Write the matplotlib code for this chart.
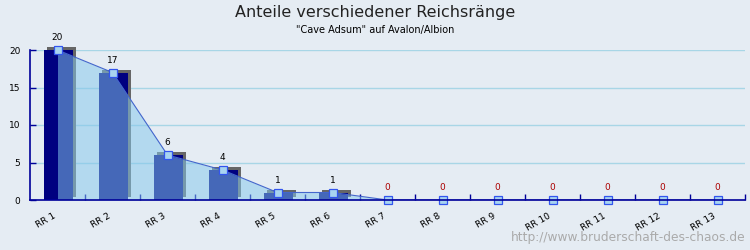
import matplotlib
matplotlib.use("Agg")
import matplotlib.pyplot as plt
import matplotlib.transforms as mtrans
import numpy as np

categories = ["RR 1", "RR 2", "RR 3", "RR 4", "RR 5", "RR 6", "RR 7",
              "RR 8", "RR 9", "RR 10", "RR 11", "RR 12", "RR 13"]
values = [20, 17, 6, 4, 1, 1, 0, 0, 0, 0, 0, 0, 0]
yticks = [0, 5, 10, 15, 20]
title = "Anteile verschiedener Reichsränge"
subtitle = "\"Cave Adsum\" auf Avalon/Albion"
watermark = "http://www.bruderschaft-des-chaos.de"

BG = "#e5ecf3"
NAVY = "#000080"
AXIS = "#000099"

fig = plt.figure(figsize=(7.5, 2.5), dpi=100, facecolor=BG)
ax = fig.add_axes([30/750, 50/250, 715/750, 150/250])
ax.set_facecolor(BG)

n = len(categories)
x = np.arange(n) + 0.5
ax.set_xlim(0, n)
ax.set_ylim(0, 20)

for y in yticks[1:]:
    ax.axhline(y, color="#a8d6e6", lw=1, zorder=1)

bw = 29/55
shift = mtrans.ScaledTranslation(3/100, 3/100, fig.dpi_scale_trans)
for xi, v in zip(x, values):
    if v > 0:
        sh = ax.bar(xi + 0.5/55, v, width=bw, color="#666666", zorder=2, clip_on=False)
        for p in sh:
            p.set_transform(ax.transData + shift)
        ax.bar(xi + 0.5/55, v, width=bw, color=NAVY, zorder=3)

ax.fill_between(x, values, 0, color=(133/255, 200/255, 236/255), alpha=0.52, lw=0, zorder=4)
ax.plot(x, values, color="#4466cc", lw=0.8, zorder=5)
ax.plot(x, values, ls="none", marker="s", ms=6, mfc="#a8d4f0", mec="#3355ee", mew=0.9,
        zorder=6, clip_on=False)

for xi, v in zip(x, values):
    if v > 0:
        ax.annotate(str(v), (xi, v), xytext=(0, 5.5), textcoords="offset points",
                    ha="center", va="bottom", fontsize=6.5, color="black")
    else:
        ax.annotate(str(v), (xi, v), xytext=(0, 6), textcoords="offset points",
                    ha="center", va="bottom", fontsize=6.5, color="#aa0000")

for s in ["top", "right"]:
    ax.spines[s].set_visible(False)
for s in ["left", "bottom"]:
    ax.spines[s].set_color(AXIS)
    ax.spines[s].set_linewidth(1.2)
    ax.spines[s].set_zorder(7)

ax.set_xticks(np.arange(1, n + 1), minor=False)
ax.set_xticklabels([])
ax.tick_params(axis="x", which="major", direction="in", length=4, color=AXIS, width=1)
ax.set_xticks(x, minor=True)
ax.set_xticklabels(categories, minor=True, rotation=30, ha="right", fontsize=6.5,
                   rotation_mode="anchor")
ax.tick_params(axis="x", which="minor", length=0, pad=8)
lshift = mtrans.ScaledTranslation(-5/100, 0, fig.dpi_scale_trans)
for lab in ax.get_xticklabels(minor=True):
    lab.set_transform(lab.get_transform() + lshift)
ax.set_yticks(yticks)
ax.set_yticklabels([str(t) for t in yticks], fontsize=6.5)
ax.tick_params(axis="y", direction="in", length=4, color=AXIS, width=1, pad=7)

fig.text(0.5, 1 - 12/250, title, ha="center", va="center", fontsize=11.5, color="#222222")
fig.text(0.5, 1 - 30/250, subtitle, ha="center", va="center", fontsize=7, color="black")
fig.text(745/750, 1 - 238/250, watermark, ha="right", va="center", fontsize=8.8, color="#aaaaaa")

fig.savefig("out.png", dpi=100, facecolor=BG)
